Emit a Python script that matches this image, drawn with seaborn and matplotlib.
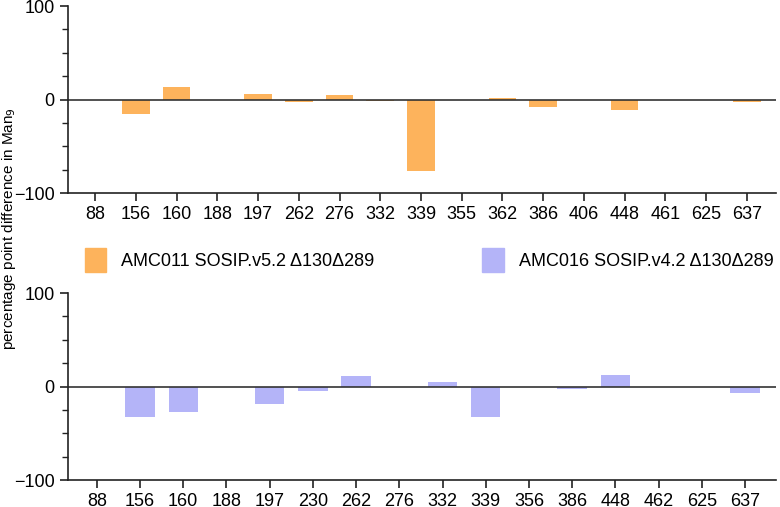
import numpy as np
import pandas as pd
import matplotlib
matplotlib.use("Agg")
import matplotlib.pyplot as plt
import seaborn as sns
from matplotlib.patches import Patch

plt.rcParams["font.family"] = ["Liberation Sans Narrow", "Liberation Sans"]

# top panel: AMC011
top_sites = ["88", "156", "160", "188", "197", "262", "276", "332", "339", "355",
             "362", "386", "406", "448", "461", "625", "637"]
top_vals = [0, -15, 14, 0, 6, -3, 5, -2, -76, 0, 2, -8, 0, -11, 0, 0, -3]

# bottom panel: AMC016
bot_sites = ["88", "156", "160", "188", "197", "230", "262", "276", "332", "339",
             "356", "386", "448", "462", "625", "637"]
bot_vals = [0, -32, -27, 0, -19, -5, 11, 0, 5, -32, 0, -3, 12, 0, 0, -7]

series_names = ["AMC011 SOSIP.v5.2 \u0394130\u0394289", "AMC016 SOSIP.v4.2 \u0394130\u0394289"]
colors = ["#FDB35C", "#B4B4F8"]

fig = plt.figure(figsize=(7.8, 5.07), dpi=100)
ax1 = fig.add_axes([0.087, 0.619, 0.908, 0.369])
ax2 = fig.add_axes([0.087, 0.053, 0.908, 0.369])

for ax, sites, vals, col in [(ax1, top_sites, top_vals, colors[0]),
                             (ax2, bot_sites, bot_vals, colors[1])]:
    df = pd.DataFrame({"site": sites, "value": vals})
    sns.barplot(df, x="site", y="value", order=sites, color=col,
                saturation=1, width=0.68, ax=ax)
    ax.axhline(0, color="#333333", lw=1.2)
    ax.set_ylim(-100, 100)
    ax.set_yticks([-100, 0, 100])
    ax.set_yticks(np.arange(-100, 101, 25), minor=True)
    ax.set_xlim(-0.67, len(sites) - 0.28)
    ax.set(xlabel="", ylabel="")
    ax.spines[["right", "top"]].set_visible(False)
    ax.spines[["left", "bottom"]].set_linewidth(1.2)
    ax.spines[["left", "bottom"]].set_color("#222222")
    ax.tick_params(axis="both", labelsize=13, width=1.2, length=6, color="#222222")
    ax.tick_params(axis="y", which="minor", length=4, width=1, color="#222222")

fig.text(0.012, 0.55, "percentage point difference in Man$_9$", rotation=90,
         ha="center", va="center", fontsize=11)

handles = [Patch(color=c) for c in colors]
fig.legend(handles, series_names, loc="center", bbox_to_anchor=(0.55, 0.487),
           ncols=2, frameon=False, fontsize=13, handlelength=1.2, handleheight=1.6,
           columnspacing=6)

plt.savefig("out.png", dpi=100)
